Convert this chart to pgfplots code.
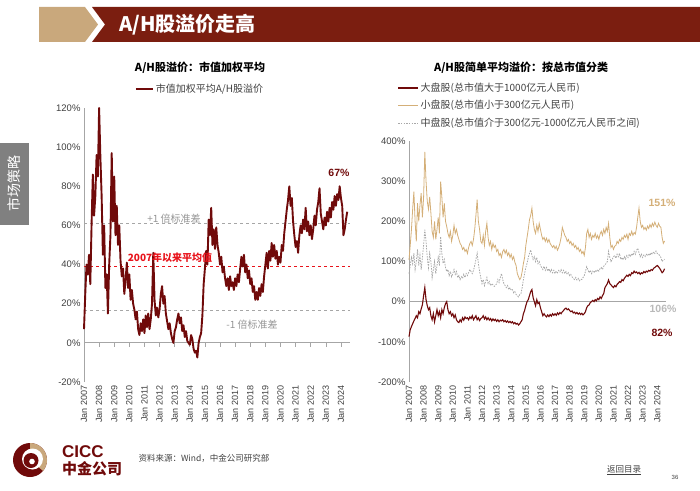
\documentclass[border=0pt]{standalone}
\usepackage{pgfplots}
\pgfplotsset{compat=1.18}
\usepackage{pgfplotstable}
\usepackage{fontspec}
\setmainfont{Liberation Sans}
\newfontfamily\cjk{Noto Sans CJK SC}
\definecolor{dred}{HTML}{700A0A}
\definecolor{banner}{HTML}{7B1E10}
\definecolor{tanbox}{HTML}{C9A87C}
\definecolor{linetan}{HTML}{D4AF78}
\definecolor{midgray}{HTML}{A8A8A8}
\definecolor{axgray}{HTML}{A6A6A6}
\definecolor{txt}{HTML}{404040}
\definecolor{meanred}{HTML}{E8131B}
\definecolor{tabgray}{HTML}{808080}

\pgfplotstableread{
m agg large small mid
0 7 -87 104 70
1 25 -70 140 90
2 40 -62 179 110
3 35 -55 230 95
4 45 -48 274 120
5 30 -42 200 80
6 60 -35 150 100
7 86 -40 245 130
8 65 -25 200 90
9 75 -30 240 115
10 96 -18 270 80
11 85 -8 210 110
12 120 15 260 140
13 95 35 373 179
14 75 5 300 150
15 45 -10 250 110
16 60 -20 230 85
17 28 -15 261 120
18 35 -35 220 100
19 15 -45 175 60
20 40 -30 160 80
21 55 -50 200 100
22 97 -35 155 70
23 62 -20 180 90
24 85 -35 210 110
25 55 -25 170 90
26 70 -40 299 162
27 50 -20 260 120
28 60 -30 210 95
29 42 -15 245 105
30 34 -5 200 85
31 38 0 187 75
32 25 -20 170 80
33 32 -30 160 65
34 41 -25 175 75
35 28 -35 150 62
36 35 -30 165 70
37 22 -40 190 80
38 27 -33 170 68
39 20 -45 180 75
40 17 -50 165 60
41 12 -52 155 65
42 16 -45 145 55
43 7 -50 140 62
44 4 -40 130 58
45 10 -46 135 68
46 6 -38 125 60
47 12 -42 130 70
48 5 -40 120 65
49 14 -45 135 72
50 8 -38 145 80
51 15 -42 150 75
52 7 -35 140 70
53 12 -45 155 78
54 20 -40 180 90
55 46 -35 215 105
56 22 -45 254 120
57 14 -40 200 95
58 18 -47 180 75
59 13 -42 150 60
60 17 -40 145 45
61 25 -35 165 55
62 29 -43 140 40
63 20 -38 175 50
64 24 -45 195 60
65 15 -40 160 45
66 11 -46 140 50
67 7 -42 150 40
68 10 -48 130 45
69 5 -43 145 42
70 2 -47 135 38
71 0 -44 140 40
72 6 -49 125 45
73 8 -45 130 55
74 12 -50 115 48
75 15 -46 120 60
76 10 -48 110 70
77 13 -45 125 55
78 6 -50 130 45
79 9 -47 120 40
80 3 -51 128 35
81 6 -48 115 40
82 1 -52 122 30
83 0 -49 110 35
84 -1 -53 118 28
85 4 -50 105 30
86 2 -55 112 22
87 -3 -52 98 25
88 -5 -56 90 18
89 -4 -54 70 15
90 -7.5 -58 62 12
91 0 -55 55 18
92 3 -50 60 20
93 5 -45 75 35
94 14 -30 95 55
95 30 -22 110 70
96 38 -10 140 85
97 47 0 160 95
98 40 5 180 110
99 63 15 204 120
100 55 25 215 129
101 69 30 233 115
102 50 10 200 105
103 58 0 180 112
104 48 -10 170 100
105 59 5 190 110
106 50 -5 175 95
107 46 -2 195 100
108 40 -15 180 90
109 44 -25 165 85
110 36 -35 155 80
111 39 -30 160 88
112 33 -35 150 78
113 29 -38 158 85
114 33 -33 148 76
115 27 -37 155 82
116 34 -32 145 74
117 29 -36 140 80
118 31 -30 135 72
119 27 -34 140 78
120 33 -30 132 70
121 29 -34 138 76
122 35 -28 128 72
123 31 -32 135 78
124 38 -27 145 74
125 44 -30 160 80
126 39 -25 185 72
127 45 -22 175 78
128 36 -18 165 70
129 40 -16 160 75
130 33 -20 150 68
131 37 -18 155 72
132 30 -22 145 65
133 33 -25 150 68
134 26 -23 140 62
135 29 -28 145 58
136 22 -26 135 55
137 26 -30 140 60
138 22 -27 130 54
139 28 -31 135 58
140 24 -28 125 52
141 30 -32 130 56
142 26 -29 120 55
143 34 -33 125 60
144 40 -30 115 65
145 46 -25 135 75
146 38 -15 170 87
147 47 -10 180 80
148 42 -8 160 72
149 51 -2 170 78
150 44 0 155 70
151 50 3 165 76
152 43 0 160 72
153 47 5 170 78
154 40 2 158 74
155 44 8 165 80
156 41 5 155 76
157 50 12 168 82
158 47 8 175 85
159 56 15 165 80
160 62 20 180 88
161 68 35 170 92
162 73 40 185 95
163 80 45 175 100
164 70 54 195 125
165 74 45 160 110
166 62 42 135 100
167 55 38 140 105
168 49 35 130 112
169 52 40 138 115
170 46 37 140 108
171 55 43 150 118
172 60 46 145 112
173 56 50 155 120
174 63 48 150 105
175 58 55 160 110
176 69 52 155 104
177 57 58 165 112
178 62 62 160 106
179 55 66 168 115
180 60 63 155 110
181 53 68 170 118
182 58 65 165 112
183 65 72 175 120
184 60 70 165 115
185 68 76 172 125
186 72 72 168 118
187 79 74 185 128
188 66 70 210 133
189 62 73 233 122
190 58 68 200 112
191 64 72 185 118
192 60 70 190 110
193 67 75 180 116
194 62 72 185 112
195 69 76 178 118
196 64 74 188 114
197 72 78 182 120
198 68 76 192 115
199 75 80 185 122
200 70 78 195 118
201 76 83 188 124
202 73 85 198 120
203 80 88 190 126
204 74 90 185 120
205 70 87 195 118
206 55 83 188 115
207 58 78 185 110
208 63 72 160 100
209 67 75 145 104
210 nan 82 151 106
}\datatable

\pgfplotsset{
  slide/.style={
    scale only axis,
    xmin=2007, xmax=2024.6,
    axis x line*=bottom,
    x axis line style={draw=none},
    axis y line*=left,
    y axis line style={axgray, line width=0.8pt},
    xtick={2007,2008,...,2024},
    xticklabels={Jan 2007,Jan 2008,Jan 2009,Jan 2010,Jan 2011,Jan 2012,Jan 2013,Jan 2014,Jan 2015,Jan 2016,Jan 2017,Jan 2018,Jan 2019,Jan 2020,Jan 2021,Jan 2022,Jan 2023,Jan 2024},
    x tick label style={rotate=90, anchor=east, font=\fontsize{9}{9}\selectfont, text=txt},
    y tick label style={font=\fontsize{9.5}{10}\selectfont, text=txt},
    major tick length=0pt,
    /pgf/number format/assume math mode=true,
    yticklabel={\pgfmathprintnumber{\tick}\%},
    clip=false,
  }
}

\begin{document}
\begin{tikzpicture}[x=1pt,y=1pt]
\path[use as bounding box] (0,0) rectangle (700,490);

% header
\fill[tanbox] (39,483) -- (85,483) -- (98,465.5) -- (85,448) -- (39,448) -- cycle;
\fill[banner] (92,483) -- (700,483) -- (700,448) -- (92,448) -- (105,465.5) -- cycle;
\node[white, font=\cjk\bfseries\fontsize{20}{20}\selectfont, anchor=west] at (116,465.5) {A/H股溢价走高};

% side tab
\fill[tabgray] (0,265) rectangle (29,347);
\node[rotate=90, white, font=\cjk\fontsize{14}{14}\selectfont] at (14.5,306) {市场策略};

% titles
\node[font=\cjk\bfseries\fontsize{11}{12}\selectfont] at (200,422) {A/H股溢价：市值加权平均};
\node[font=\cjk\bfseries\fontsize{11}{12}\selectfont] at (521,422) {A/H股简单平均溢价：按总市值分类};

% left axis
\begin{axis}[slide,
  at={(84pt,108pt)}, anchor=south west,
  width=266pt, height=274pt,
  ymin=-20, ymax=120, ytick={-20,0,...,120},
  legend style={at={(0.436,1.069)}, anchor=center, draw=none, fill=none,
    font=\cjk\fontsize{10}{12}\selectfont, text=txt, inner sep=0pt},
  legend image code/.code={\draw[#1] (0pt,0pt) -- (17pt,0pt);},
]
\addplot[axgray, line width=0.8pt, forget plot] coordinates {(2007,0) (2024.6,0)};
\pgfplotsinvokeforeach{2008,2009,...,2024}{\draw[axgray, line width=0.6pt] (axis cs:#1,0) -- ++(0pt,-4pt);}
\addplot[axgray, dashed, line width=0.9pt, forget plot] coordinates {(2007,61) (2024.6,61)};
\addplot[axgray, dashed, line width=0.9pt, forget plot] coordinates {(2007,16.6) (2024.6,16.6)};
\addplot[meanred, dashed, line width=1pt, forget plot] coordinates {(2007,39) (2024.6,39)};
\addplot[dred, line width=1.9pt, line join=round] table[x expr=2007+\thisrow{m}/12, y=agg] {\datatable};
\addlegendentry{市值加权平均A/H股溢价}
\end{axis}

% right axis
\begin{axis}[slide,
  at={(409pt,108pt)}, anchor=south west,
  width=257pt, height=241pt,
  ymin=-200, ymax=400, ytick={-200,-100,...,400},
  legend style={at={(-0.045,1.25)}, anchor=north west, draw=none, fill=none,
    font=\cjk\fontsize{10}{12}\selectfont, text=txt, inner sep=0pt, row sep=3.5pt,
    nodes={inner sep=2pt}},
  legend cell align=left,
  legend image code/.code={\draw[#1] (0pt,0pt) -- (20pt,0pt);},
]
\addplot[axgray, line width=0.8pt, forget plot] coordinates {(2007,0) (2024.6,0)};
\addplot[dred, line width=1.1pt] table[x expr=2007+\thisrow{m}/12, y=large] {\datatable};
\addlegendentry{大盘股(总市值大于1000亿元人民币)}
\addplot[linetan, line width=0.8pt] table[x expr=2007+\thisrow{m}/12, y=small] {\datatable};
\addlegendentry{小盘股(总市值小于300亿元人民币)}
\addplot[midgray, line width=0.8pt, dash pattern=on 1.5pt off 1.2pt] table[x expr=2007+\thisrow{m}/12, y=mid] {\datatable};
\addlegendentry{中盘股(总市值介于300亿元-1000亿元人民币之间)}
\end{axis}

% annotations left
\node[text=axgray!90!black, font=\cjk\fontsize{10}{10}\selectfont] at (174,271) {+1 倍标准差};
\node[text=meanred, font=\cjk\bfseries\fontsize{10}{10}\selectfont] at (170,232) {2007年以来平均值};
\node[text=axgray!90!black, font=\cjk\fontsize{10}{10}\selectfont] at (252,165) {-1 倍标准差};
\node[text=dred, font=\bfseries\fontsize{10.5}{11}\selectfont] at (339,317) {67\%};
% annotations right
\node[text=linetan, font=\bfseries\fontsize{10.5}{11}\selectfont] at (662,287) {151\%};
\node[text=midgray!80!white, font=\bfseries\fontsize{10.5}{11}\selectfont] at (663,181) {106\%};
\node[text=dred, font=\bfseries\fontsize{10.5}{11}\selectfont] at (662,157) {82\%};

% footer logo
\fill[dred] (30,30) circle (17);
\fill[tanbox] (30,30) -- ++(90:17) arc[start angle=90, end angle=-40, radius=17] -- cycle;
\fill[white] (32.5,31) circle (10.5);
\fill[dred] (31,29.5) circle (7.5);
\fill[white] (32,28.5) circle (2.8);
\node[text=dred, font=\bfseries\fontsize{17}{17}\selectfont, anchor=west, inner sep=0pt] at (62,38) {CICC};
\node[text=dred, font=\cjk\bfseries\fontsize{15}{15}\selectfont, anchor=west, inner sep=0pt] at (62,21) {中金公司};
\node[text=txt, font=\cjk\fontsize{8.5}{9}\selectfont, anchor=west] at (135,32) {资料来源：Wind，中金公司研究部};
\node[text=txt, font=\cjk\fontsize{8.5}{9}\selectfont] at (624,20) {\underline{返回目录}};
\node[text=txt, font=\fontsize{6}{6}\selectfont] at (675,13) {36};
\end{tikzpicture}
\end{document}
